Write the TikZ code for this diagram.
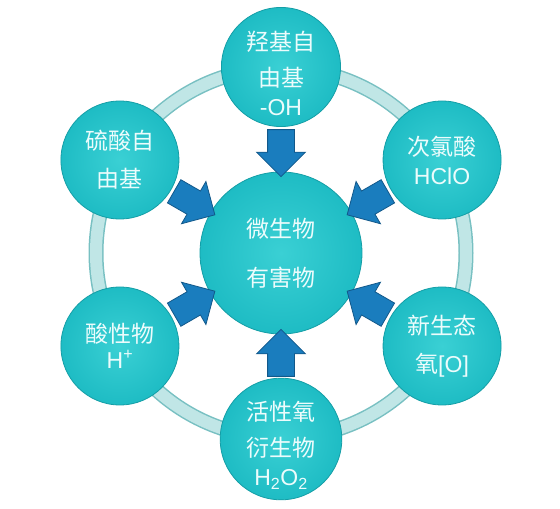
\documentclass[tikz,border=0pt]{standalone}
\usepackage{fontspec}
\setmainfont{Noto Sans CJK SC}
\newfontfamily\latinfont{Liberation Sans}
\usetikzlibrary{calc,shapes.arrows}
\definecolor{ballteal}{RGB}{30,188,196}
\definecolor{ballin}{RGB}{58,208,212}
\definecolor{balledge}{RGB}{20,158,166}
\definecolor{ringfill}{RGB}{192,230,230}
\definecolor{ringedge}{RGB}{120,192,194}
\definecolor{arrowblue}{RGB}{26,125,190}
\definecolor{arrowedge}{RGB}{18,88,138}
\definecolor{txtcol}{RGB}{236,252,252}

\tikzset{
  ball/.style={circle,inner sep=0pt,minimum size=#1,draw=balledge,line width=0.8pt,
    inner color=ballin,outer color=ballteal,text=txtcol,align=center,
    font=\fontsize{23}{32}\selectfont},
  blockarrow/.style={single arrow,draw=arrowedge,fill=arrowblue,line width=0.8pt,
    inner xsep=0pt,inner ysep=13pt,minimum height=47pt,
    single arrow head extend=11pt,rotate=#1},
}

\begin{document}
\begin{tikzpicture}[x=1pt,y=1pt]
  \useasboundingbox (0,0) rectangle (560,509);
  \coordinate (c) at (281,256);
  % ring through the outer circles
  \draw[ringedge,line width=15pt] (c) circle (185pt);
  \draw[ringfill,line width=12pt] (c) circle (185pt);
  \foreach \ang [count=\i] in {90,30,-30,-90,-150,150}
    \coordinate (p\i) at ($(c)+(\ang:186pt)$);
  \node[ball=162pt,font=\fontsize{23}{49}\selectfont] (m) at (c) {微生物\\有害物};
  % arrows towards the centre
  \foreach \ang [count=\i] in {90,30,-30,-90,-150,150}
    \node[blockarrow=\ang+180] (a\i) at ($(c)!0.573!(p\i)$) {};
  \node[ball=118pt] (s1) at (p1) {\rule{0pt}{32pt}羟基自\\[4pt]由基\\[-3pt]{\latinfont -OH}};
  \node[ball=118pt] (s2) at (p2) {次氯酸\\[-3pt]{\latinfont HClO}};
  \node[ball=118pt] (s3) at (p3) {新生态\\[6pt]氧{\latinfont [O]}};
  \node[ball=118pt] (s4) at (p4) {\rule{0pt}{32pt}活性氧\\[4pt]衍生物\\[-3pt]{\latinfont H\textsubscript{2}O\textsubscript{2}}};
  \node[ball=118pt] (s5) at (p5) {酸性物\\[-6pt]{\latinfont H\textsuperscript{+}}};
  \node[ball=118pt] (s6) at (p6) {硫酸自\\[6pt]由基};
\end{tikzpicture}
\end{document}
